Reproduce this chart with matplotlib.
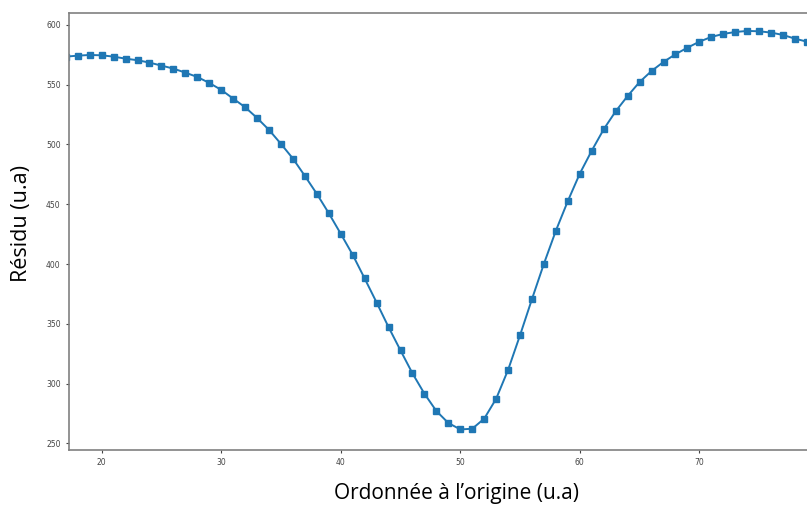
import matplotlib.pyplot as plt

# valeurs
ordonnee = list(range(17, 80))
residu = [573.5, 574.3, 574.9, 574.6, 573.5, 571.8, 570.5, 568.5, 566.0, 563.5,
          560.1, 556.5, 551.5, 545.7, 538.4, 531.2, 522.2, 512.2, 500.5, 488.2,
          473.7, 458.7, 442.5, 425.3, 407.7, 387.9, 367.8, 347.2, 327.7, 308.5,
          291.5, 277.0, 267.0, 261.6, 262.2, 270.6, 287.3, 311.5, 340.5, 370.8,
          400.4, 428.0, 452.8, 475.7, 494.9, 512.8, 527.8, 540.6, 552.3, 561.5,
          569.1, 575.5, 581.0, 586.0, 590.0, 592.5, 594.1, 595.0, 594.7, 593.6,
          591.6, 588.5, 586.0]

xticks = [20, 30, 40, 50, 60, 70]
yticks = [250, 300, 350, 400, 450, 500, 550, 600]

fig = plt.figure(figsize=(8.07, 5.05), dpi=100)
ax = fig.add_axes([69/807, 1 - 450/505, 1 - 69/807, (450 - 13)/505])

ax.plot(ordonnee, residu, color='#1f77b4', linewidth=1.4, marker='s', markersize=4.2)

ax.set_xlim(17.27, 79.0)
ax.set_ylim(244.4, 610)
ax.set_xticks(xticks)
ax.set_yticks(yticks)
ax.tick_params(labelsize=5.5, colors='#444444', length=2.5, width=0.8)

for side in ['left', 'bottom', 'top']:
    ax.spines[side].set_color('#808080')
    ax.spines[side].set_linewidth(1.2)
ax.spines['right'].set_visible(False)

fig.text(456/807, 1 - 494/505, "Ordonnée à l’origine (u.a)", ha='center', va='center',
         fontsize=15, family='Open Sans', color='black')
fig.text(22/807, 1 - 224/505, "Résidu (u.a)", ha='center', va='center', rotation=90,
         fontsize=15.5, family='Open Sans', color='black')

plt.savefig("out.png", dpi=100)
